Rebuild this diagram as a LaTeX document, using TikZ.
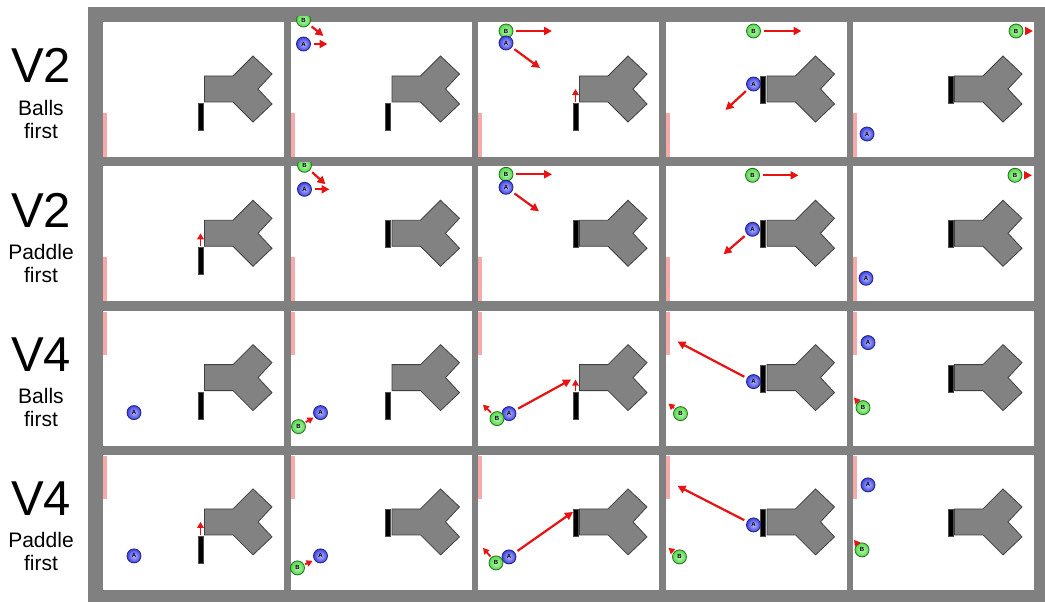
\documentclass[tikz,border=0pt]{standalone}
\usepackage{fontspec}
\setmainfont{Liberation Sans}
\usetikzlibrary{arrows.meta}

\definecolor{frame}{RGB}{128,128,128}
\definecolor{body}{RGB}{130,130,130}
\definecolor{wallpink}{RGB}{246,170,170}
\definecolor{balla}{RGB}{60,64,230}
\definecolor{ballb}{RGB}{80,220,70}
\definecolor{arrowred}{RGB}{232,18,18}

\tikzset{
	vtext/.style = {font=\fontsize{49}{49}\selectfont, anchor=base},
	rowtext/.style = {font=\fontsize{21}{21}\selectfont, anchor=base},
	ballA/.style = {circle, minimum size=14pt, inner sep=0pt, draw=balla!55!black, line width=.8pt,
		inner color=balla!35!white, outer color=balla, font=\fontsize{6}{6}\selectfont\bfseries},
	ballB/.style = {ballA, draw=ballb!50!black, inner color=ballb!35!white, outer color=ballb},
	paddle/.style = {rectangle, fill=black, draw=black!70, minimum width=5pt, minimum height=27pt, inner sep=0pt},
	mv/.style = {draw=arrowred, line width=2.2pt, -{Triangle[length=8pt,width=8pt]}, shorten <=3pt},
	mvs/.style = {draw=arrowred, line width=1.8pt, -{Triangle[length=6pt,width=6.5pt]}, shorten <=1pt},
	bumper/.pic = {
		\draw [fill=body, draw=black!75, line width=.8pt] (101.5,54) -- (130,54) -- (150,34) -- (169,52)
			-- (155,67) -- (169,82) -- (150,100) -- (130,80) -- (101.5,80) -- cycle;
	}
}

\begin{document}
\begin{tikzpicture}[x=1pt, y=-1pt]
	\useasboundingbox (0,0) rectangle (1045,602);
	\fill [frame] (88,7) rectangle (1045,602);

	% row titles
	\node [vtext] (v1) at (41,83) {V2};
	\node [rowtext] (s1) at (41,115) {Balls};
	\node [rowtext] (f1) at (41,138) {first};
	\node [vtext] (v2) at (41,227.3) {V2};
	\node [rowtext] (s2) at (41,259.3) {Paddle};
	\node [rowtext] (f2) at (41,282.3) {first};
	\node [vtext] (v3) at (41,371.6) {V4};
	\node [rowtext] (s3) at (41,403.6) {Balls};
	\node [rowtext] (f3) at (41,426.6) {first};
	\node [vtext] (v4) at (41,515.9) {V4};
	\node [rowtext] (s4) at (41,547.9) {Paddle};
	\node [rowtext] (f4) at (41,570.9) {first};

	% empty frames
	\foreach \j in {0,...,3} {
		\foreach \i in {0,...,4} {
			\begin{scope}[shift={({103+187.5*\i},{22+144.3*\j})}]
				\fill [white] (0,0) rectangle (181,135);
				\ifnum\j<2
					\fill [wallpink] (0,91) rectangle (4,135);
				\else
					\fill [wallpink] (0,1) rectangle (4,44);
				\fi
				\pic {bumper};
			\end{scope}
		}
	}

	% row 1
	\begin{scope}[shift={(103,22)}]
		\node [paddle] (p11) at (97.5,94.5) {};
	\end{scope}
	\begin{scope}[shift={(290.5,22)}]
		\node [paddle] (p12) at (97.5,94.5) {};
		\node [ballA] (a12) at (13,22) {A};
		\begin{scope}
			\clip (-6,-5) rectangle (40,10);
			\node [ballB] (b12) at (13,-2) {B};
		\end{scope}
		\coordinate (ta12) at (37,22);
		\coordinate (tb12) at (33,14);
		\draw [mv] (a12) -- (ta12);
		\draw [mv] (b12) -- (tb12);
	\end{scope}
	\begin{scope}[shift={(478,22)}]
		\node [paddle] (p13) at (97.5,94.5) {};
		\node [ballB] (b13) at (28,9) {B};
		\node [ballA] (a13) at (28,21) {A};
		\coordinate (tb13) at (74,9);
		\coordinate (ta13) at (62,46);
		\coordinate (tp13) at (97.5,67);
		\draw [mv] (b13) -- (tb13);
		\draw [mv] (a13) -- (ta13);
		\draw [mvs] (p13) -- (tp13);
	\end{scope}
	\begin{scope}[shift={(665.5,22)}]
		\node [paddle] (p14) at (97.5,67.5) {};
		\node [ballB] (b14) at (88,9) {B};
		\node [ballA] (a14) at (88,62) {A};
		\coordinate (tb14) at (136,9);
		\coordinate (ta14) at (60,88);
		\draw [mv] (b14) -- (tb14);
		\draw [mv] (a14) -- (ta14);
	\end{scope}
	\begin{scope}[shift={(853,22)}]
		\node [paddle] (p15) at (97.5,67.5) {};
		\node [ballB] (b15) at (163,9) {B};
		\node [ballA] (a15) at (14,112) {A};
		\coordinate (tb15) at (180,9);
		\draw [mv] (b15) -- (tb15);
	\end{scope}

	% row 2
	\begin{scope}[shift={(103,166.3)}]
		\node [paddle] (p21) at (97.5,94.5) {};
		\coordinate (tp21) at (97.5,67);
		\draw [mvs] (p21) -- (tp21);
	\end{scope}
	\begin{scope}[shift={(290.5,166.3)}]
		\node [paddle] (p22) at (97.5,67.5) {};
		\node [ballA] (a22) at (14,23) {A};
		\begin{scope}
			\clip (-6,-4) rectangle (40,10);
			\node [ballB] (b22) at (14,-1) {B};
		\end{scope}
		\coordinate (ta22) at (39,23);
		\coordinate (tb22) at (35,18);
		\draw [mv] (a22) -- (ta22);
		\draw [mv] (b22) -- (tb22);
	\end{scope}
	\begin{scope}[shift={(478,166.3)}]
		\node [paddle] (p23) at (97.5,67.5) {};
		\node [ballB] (b23) at (28,8) {B};
		\node [ballA] (a23) at (28,21) {A};
		\coordinate (tb23) at (74,8);
		\coordinate (ta23) at (61,45);
		\draw [mv] (b23) -- (tb23);
		\draw [mv] (a23) -- (ta23);
	\end{scope}
	\begin{scope}[shift={(665.5,166.3)}]
		\node [paddle] (p24) at (97.5,67.5) {};
		\node [ballB] (b24) at (87,9) {B};
		\node [ballA] (a24) at (87,63) {A};
		\coordinate (tb24) at (133,9);
		\coordinate (ta24) at (58,88);
		\draw [mv] (b24) -- (tb24);
		\draw [mv] (a24) -- (ta24);
	\end{scope}
	\begin{scope}[shift={(853,166.3)}]
		\node [paddle] (p25) at (97.5,67.5) {};
		\node [ballB] (b25) at (162,9) {B};
		\node [ballA] (a25) at (13,112) {A};
		\coordinate (tb25) at (179,9);
		\draw [mv] (b25) -- (tb25);
	\end{scope}

	% row 3
	\begin{scope}[shift={(103,310.6)}]
		\node [paddle] (p31) at (97.5,95) {};
		\node [ballA] (a31) at (31,102) {A};
	\end{scope}
	\begin{scope}[shift={(290.5,310.6)}]
		\node [paddle] (p32) at (97.5,95) {};
		\node [ballA] (a32) at (30,102) {A};
		\node [ballB] (b32) at (8,116) {B};
		\coordinate (tb32) at (23,107);
		\draw [mvs] (b32) -- (tb32);
	\end{scope}
	\begin{scope}[shift={(478,310.6)}]
		\node [paddle] (p33) at (97.5,95) {};
		\node [ballA] (a33) at (31,103) {A};
		\node [ballB] (b33) at (19,108) {B};
		\coordinate (ta33) at (93,69);
		\coordinate (tb33) at (5,94);
		\coordinate (tp33) at (97.5,69);
		\draw [mv] (a33) -- (ta33);
		\draw [mvs] (b33) -- (tb33);
		\draw [mvs] (p33) -- (tp33);
	\end{scope}
	\begin{scope}[shift={(665.5,310.6)}]
		\node [paddle] (p34) at (97.5,68) {};
		\node [ballA] (a34) at (88,71) {A};
		\node [ballB] (b34) at (15,103) {B};
		\coordinate (ta34) at (12,31);
		\coordinate (tb34) at (3,93);
		\draw [mv] (a34) -- (ta34);
		\draw [mvs] (b34) -- (tb34);
	\end{scope}
	\begin{scope}[shift={(853,310.6)}]
		\node [paddle] (p35) at (97.5,68) {};
		\node [ballA] (a35) at (15,32) {A};
		\node [ballB] (b35) at (10,97) {B};
		\coordinate (tb35) at (1,87);
		\draw [mvs] (b35) -- (tb35);
	\end{scope}

	% row 4
	\begin{scope}[shift={(103,454.9)}]
		\node [paddle] (p41) at (97.5,95) {};
		\node [ballA] (a41) at (31,101) {A};
		\coordinate (tp41) at (97.5,67);
		\draw [mvs] (p41) -- (tp41);
	\end{scope}
	\begin{scope}[shift={(290.5,454.9)}]
		\node [paddle] (p42) at (97.5,67.5) {};
		\node [ballA] (a42) at (30,101) {A};
		\node [ballB] (b42) at (7,113) {B};
		\coordinate (tb42) at (22,106);
		\draw [mvs] (b42) -- (tb42);
	\end{scope}
	\begin{scope}[shift={(478,454.9)}]
		\node [paddle] (p43) at (97.5,67.5) {};
		\node [ballA] (a43) at (31,102) {A};
		\node [ballB] (b43) at (18,108) {B};
		\coordinate (ta43) at (95,57);
		\coordinate (tb43) at (5,93);
		\draw [mv] (a43) -- (ta43);
		\draw [mvs] (b43) -- (tb43);
	\end{scope}
	\begin{scope}[shift={(665.5,454.9)}]
		\node [paddle] (p44) at (97.5,67.5) {};
		\node [ballA] (a44) at (88,70) {A};
		\node [ballB] (b44) at (14,102) {B};
		\coordinate (ta44) at (12,31);
		\coordinate (tb44) at (3,93);
		\draw [mv] (a44) -- (ta44);
		\draw [mvs] (b44) -- (tb44);
	\end{scope}
	\begin{scope}[shift={(853,454.9)}]
		\node [paddle] (p45) at (97.5,67.5) {};
		\node [ballA] (a45) at (15,30) {A};
		\node [ballB] (b45) at (9,95) {B};
		\coordinate (tb45) at (1,85);
		\draw [mvs] (b45) -- (tb45);
	\end{scope}
\end{tikzpicture}
\end{document}
